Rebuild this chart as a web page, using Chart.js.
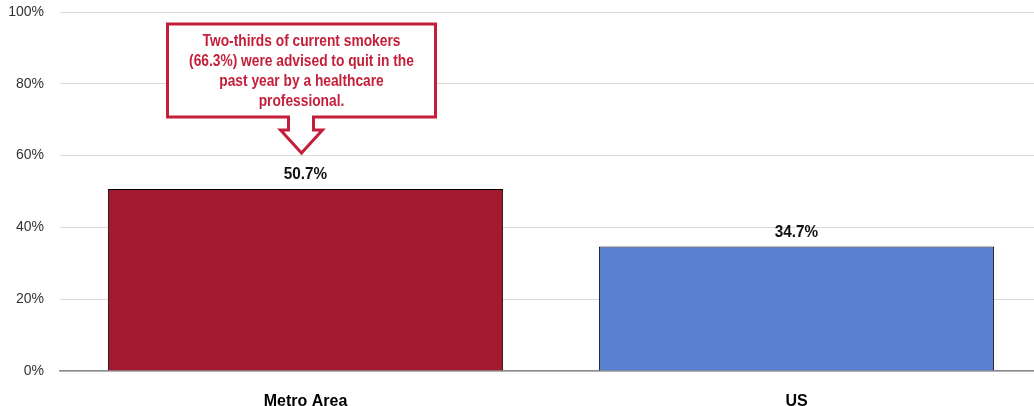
<!DOCTYPE html>
<html>
<head>
<meta charset="utf-8">
<title>Advised to quit</title>
<script src="https://cdn.jsdelivr.net/npm/chart.js@4"></script>
<style>
  html, body { margin: 0; padding: 0; background: #fff; overflow: hidden; }
  #wrap { position: relative; width: 1042px; height: 406px; }
</style>
</head>
<body>
<div id="wrap"><canvas id="chart"></canvas></div>
<script>
// data
const categories = ["Metro Area", "US"];
const values = [50.7, 34.7];
const barColors = ["#A31930", "#5A82D2"];
const yTicks = [0, 20, 40, 60, 80, 100];
const calloutLines = [
    "Two-thirds of current smokers",
    "(66.3%) were advised to quit in the",
    "past year by a healthcare",
    "professional."
];

const FONT = "'Liberation Sans', Arial, sans-serif";
const RED = "#C41E3A";

// value labels above the bars (squeezed a bit, the original uses a narrow face)
const valueLabels = {
    id: 'valueLabels',
    afterDatasetsDraw(chart) {
        const ctx = chart.ctx;
        const meta = chart.getDatasetMeta(0);
        ctx.save();
        ctx.font = "bold 17px " + FONT;
        ctx.fillStyle = "#111";
        ctx.textAlign = "center";
        ctx.textBaseline = "bottom";
        meta.data.forEach((bar, i) => {
            ctx.save();
            ctx.translate(bar.x, bar.y - 6);
            ctx.scale(0.9, 1);
            ctx.fillText(values[i].toFixed(1) + "%", 0, 0);
            ctx.restore();
        });
        ctx.restore();
    }
};

// callout box with arrow pointing down at the first bar
const callout = {
    id: 'callout',
    afterDraw(chart) {
        const ctx = chart.ctx;
        const bar = chart.getDatasetMeta(0).data[0];
        const cx = bar.x - 4;
        const top = chart.chartArea.top + 12;
        const boxL = cx - 134, boxR = cx + 134;
        const boxT = top, boxB = top + 93;
        const shaftL = cx - 13, shaftR = cx + 12;
        const headY = boxB + 13, headL = cx - 21, headR = cx + 21;
        const tipY = boxB + 36;

        ctx.save();
        ctx.beginPath();
        ctx.moveTo(boxL, boxT);
        ctx.lineTo(boxR, boxT);
        ctx.lineTo(boxR, boxB);
        ctx.lineTo(shaftR, boxB);
        ctx.lineTo(shaftR, headY);
        ctx.lineTo(headR, headY);
        ctx.lineTo(cx, tipY);
        ctx.lineTo(headL, headY);
        ctx.lineTo(shaftL, headY);
        ctx.lineTo(shaftL, boxB);
        ctx.lineTo(boxL, boxB);
        ctx.closePath();
        ctx.fillStyle = "#fff";
        ctx.fill();
        ctx.lineWidth = 3;
        ctx.lineJoin = "miter";
        ctx.strokeStyle = RED;
        ctx.stroke();

        ctx.font = "bold 16px " + FONT;
        ctx.fillStyle = RED;
        ctx.textAlign = "center";
        ctx.textBaseline = "middle";
        calloutLines.forEach((line, i) => {
            ctx.save();
            ctx.translate(cx, boxT + 18 + i * 20);
            ctx.scale(0.86, 1);
            ctx.fillText(line, 0, 0);
            ctx.restore();
        });
        ctx.restore();
    }
};

new Chart(document.getElementById("chart"), {
    type: 'bar',
    data: {
        labels: categories,
        datasets: [{
            data: values,
            backgroundColor: barColors,
            borderColor: "#000",
            borderWidth: 1,
            barPercentage: 0.805,
            categoryPercentage: 1
        }]
    },
    options: {
        responsive: true,
        maintainAspectRatio: false,
        animation: false,
        layout: { padding: { top: 12, right: 0, bottom: 0, left: 0 } },
        plugins: {
            legend: { display: false },
            tooltip: { enabled: false }
        },
        scales: {
            x: {
                grid: { display: false },
                border: { color: "#8c8c8c", width: 1.5 },
                ticks: {
                    color: "#000",
                    padding: 13,
                    font: { family: FONT, size: 16, weight: 'bold' }
                },
                afterFit(s) { s.height = 35; }
            },
            y: {
                min: 0,
                max: 100,
                afterBuildTicks(s) { s.ticks = yTicks.map(v => ({ value: v })); },
                grid: { color: "#d9d9d9", lineWidth: 1, drawTicks: false },
                border: { display: false },
                ticks: {
                    color: "#333",
                    padding: 16,
                    font: { family: FONT, size: 14 },
                    callback: v => v + "%"
                },
                afterFit(s) {
                    s.width = 60;
                    s.paddingTop = 0;
                    s.paddingBottom = 0;
                }
            }
        }
    },
    plugins: [valueLabels, callout]
});
</script>
</body>
</html>
